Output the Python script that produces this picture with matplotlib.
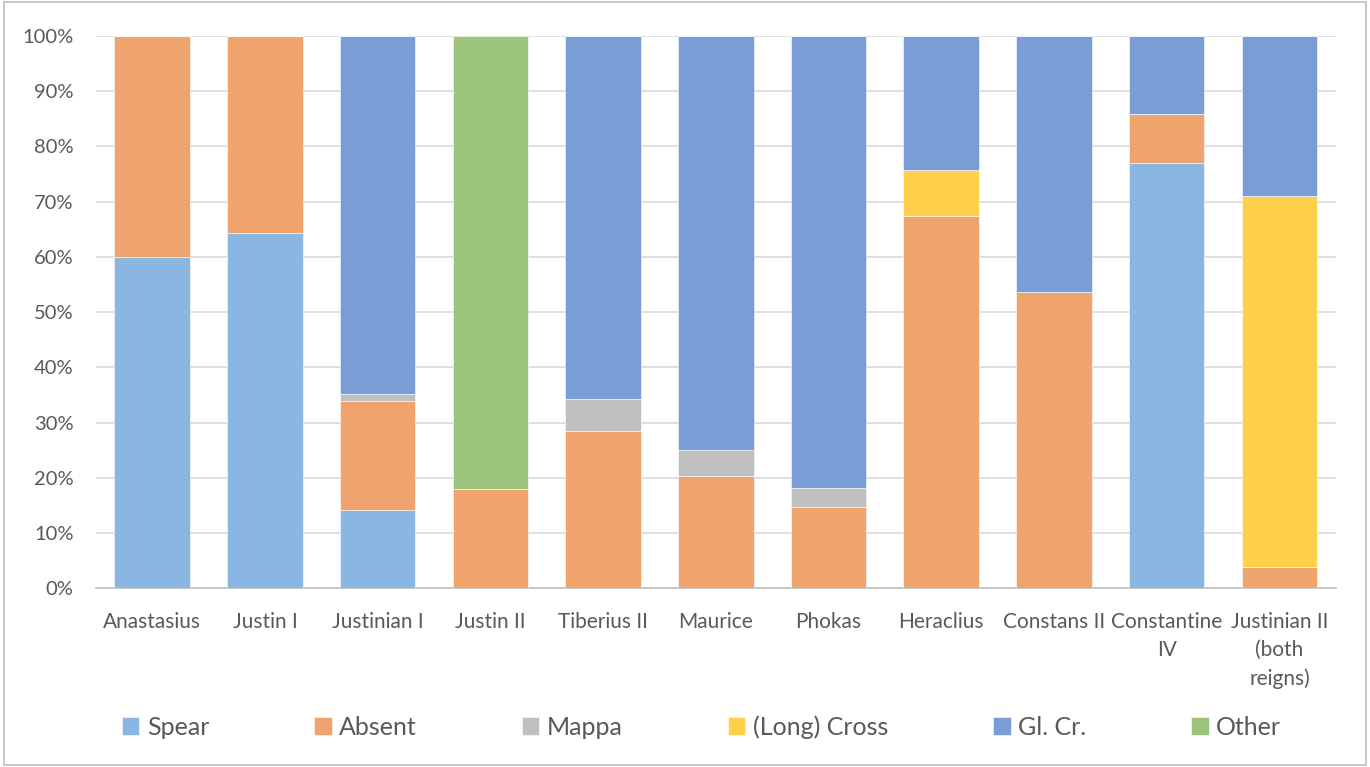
import numpy as np
import matplotlib
matplotlib.use("Agg")
from matplotlib import pyplot as plt
from matplotlib.patches import Rectangle

plt.rcParams['font.family'] = ['Lato', 'DejaVu Sans']

rulers = ["Anastasius", "Justin I", "Justinian I", "Justin II", "Tiberius II",
          "Maurice", "Phokas", "Heraclius", "Constans II", "Constantine\nIV",
          "Justinian II\n(both\nreigns)"]

# shares in percent
spear  = [60.0, 64.4, 14.2, 0.0, 0.0, 0.0, 0.0, 0.0, 0.0, 77.1, 0.0]
absent = [40.0, 35.6, 19.8, 18.0, 28.5, 20.4, 14.7, 67.4, 53.7, 8.8, 3.9]
mappa  = [0.0, 0.0, 1.1, 0.0, 5.7, 4.6, 3.5, 0.0, 0.0, 0.0, 0.0]
cross  = [0.0, 0.0, 0.0, 0.0, 0.0, 0.0, 0.0, 8.3, 0.0, 0.0, 67.2]
glcr   = [0.0, 0.0, 64.9, 0.0, 65.8, 75.0, 81.8, 24.3, 46.3, 14.1, 28.9]
other  = [0.0, 0.0, 0.0, 82.0, 0.0, 0.0, 0.0, 0.0, 0.0, 0.0, 0.0]

series = [("Spear", spear, "#8AB7E1"),
          ("Absent", absent, "#F0A46D"),
          ("Mappa", mappa, "#BFBFBF"),
          ("(Long) Cross", cross, "#FFD14A"),
          ("Gl. Cr.", glcr, "#7B9DD6"),
          ("Other", other, "#9CC47D")]

fig = plt.figure(figsize=(13.7, 7.67), dpi=100)
ax = fig.add_axes([0.070, 0.233, 0.905, 0.720])

x = np.arange(len(rulers))
bottom = np.zeros(len(rulers))
for name, vals, col in series:
    vals = np.array(vals)
    ax.bar(x, vals, 0.67, bottom=bottom, color=col, label=name,
           edgecolor='white', linewidth=0.4, zorder=3)
    bottom += vals

ax.set_xlim(-0.5, len(rulers) - 0.5)
ax.set_ylim(0, 100)
ax.set_yticks(np.arange(0, 101, 10))
ax.set_yticklabels([f"{v}%" for v in range(0, 101, 10)], fontsize=14.5)
ax.yaxis.grid(True, color='#D9D9D9', linewidth=1.2, zorder=0)
ax.set_xticks(x)
ax.set_xticklabels(rulers, multialignment='center', fontsize=15, linespacing=1.5)

for s in ['top', 'right', 'left']:
    ax.spines[s].set_visible(False)
ax.spines['bottom'].set_color('#BFBFBF')
ax.spines['bottom'].set_linewidth(1.2)
ax.tick_params(axis='both', length=0, colors='#595959')
ax.tick_params(axis='x', pad=17)
ax.tick_params(axis='y', pad=16)

fig.legend(loc='center', bbox_to_anchor=(0.512, 0.052), ncol=6, frameon=False,
           fontsize=18, labelcolor='#595959', handlelength=0.7, handleheight=0.7,
           handletextpad=0.3, columnspacing=4.2)

fig.patches.append(Rectangle((0.003, 0.003), 0.994, 0.994, transform=fig.transFigure,
                             fill=False, edgecolor='#BFBFBF', linewidth=1.2))

fig.savefig("out.png", dpi=100)
